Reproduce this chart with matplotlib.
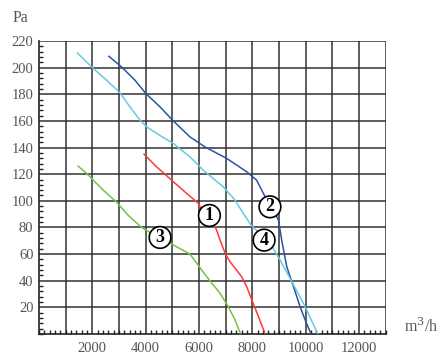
import matplotlib
matplotlib.use("Agg")
import matplotlib.pyplot as plt
from matplotlib.ticker import MultipleLocator

# curve data (flow m3/h, pressure Pa)
flow_1 = [3940, 4410, 5040, 5540, 5980, 6040, 6480, 6660, 6790, 6980, 7160, 7600, 7790, 7980, 8230, 8480]
pa_1 = [135, 125.5, 114.3, 105.5, 98, 95.5, 85.5, 78, 70.5, 60.5, 54.3, 43, 35.5, 25.5, 13, 0]

flow_2 = [2620, 3100, 3600, 4010, 4540, 5010, 5660, 6220, 7040, 7790, 8160, 8480, 8850,
          8980, 9100, 9290, 9480, 9790, 9980, 10200]
pa_2 = [208.5, 200.5, 190.5, 180.5, 170.5, 160.5, 148, 140.5, 131.8, 121.8, 115.5, 103, 90.5,
        85.5, 70.5, 50.5, 39.3, 20.5, 10.5, 0]

flow_3 = [1470, 1790, 2410, 2910, 3350, 3850, 4540, 5040, 5660, 6290, 6790, 7100, 7350, 7560]
pa_3 = [126, 120.5, 108, 99, 89, 80, 71.8, 66.8, 60, 43, 30.5, 20.5, 10.5, 0]

flow_4 = [1440, 2000, 2540, 3040, 3410, 3790, 4040, 4540, 5040, 5660, 6160, 6910, 7350, 7660,
          7980, 8600, 9040, 9480, 9980, 10450]
pa_4 = [211, 200, 190.5, 181, 170.5, 160.5, 155.5, 149, 143, 133, 123, 110.5, 100.5, 90.5,
        81, 70.5, 55.5, 39.3, 20.5, 0]

labels = ["1", "2", "3", "4"]
label_x = [6390, 8660, 4540, 8440]
label_y = [89, 95.5, 72.5, 70.5]

x_ticks = [2000, 4000, 6000, 8000, 10000, 12000]
y_ticks = [20, 40, 60, 80, 100, 120, 140, 160, 180, 200, 220]

plt.rcParams["font.family"] = ["Liberation Serif", "DejaVu Serif"]

fig = plt.figure(figsize=(4.43, 3.59), dpi=100)
ax = fig.add_axes([0.088, 0.0696, 0.7827, 0.8162])

ax.set_xlim(0, 13000)
ax.set_ylim(0, 220)

# grid
for gx in range(1000, 13001, 1000):
    ax.axvline(gx, color="#333333", lw=1.1, zorder=1)
for gy in range(20, 221, 20):
    ax.axhline(gy, color="#333333", lw=1.1, zorder=1)

ax.plot(flow_2, pa_2, color="#2c52a8", lw=1.1, zorder=3)
ax.plot(flow_4, pa_4, color="#66ccdd", lw=1.1, zorder=3)
ax.plot(flow_1, pa_1, color="#ff3838", lw=1.1, zorder=3)
ax.plot(flow_3, pa_3, color="#77c244", lw=1.1, zorder=3)

for t, lx, ly in zip(labels, label_x, label_y):
    ax.text(lx, ly, t, ha="center", va="center", fontsize=13, fontweight="bold",
            zorder=5, bbox=dict(boxstyle="circle,pad=0.13", fc="white", ec="black", lw=1.2))

ax.set_xticks(x_ticks)
ax.set_xticklabels([str(v) for v in x_ticks])
ax.set_yticks(y_ticks)
ax.set_yticklabels([str(v) for v in y_ticks])
ax.xaxis.set_minor_locator(MultipleLocator(200))
ax.yaxis.set_minor_locator(MultipleLocator(4))
ax.tick_params(which="major", length=0, labelsize=10.5, labelcolor="#555555")
ax.tick_params(axis="x", which="major", pad=6)
ax.tick_params(axis="y", which="major", pad=4)
ax.tick_params(which="minor", direction="in", length=3, width=1, color="#222222")

for s in ["top", "right"]:
    ax.spines[s].set_visible(False)
for s in ["left", "bottom"]:
    ax.spines[s].set_color("#222222")
    ax.spines[s].set_linewidth(1.2)

fig.text(20 / 443, 1 - 18 / 359, "Pa", ha="center", va="center", fontsize=11.5, color="#555555")
fig.text(421 / 443, 1 - 327 / 359, "m$^3$/h", ha="center", va="center", fontsize=11.5, color="#555555",
         math_fontfamily="dejavuserif")

fig.savefig("out.png", dpi=100)
